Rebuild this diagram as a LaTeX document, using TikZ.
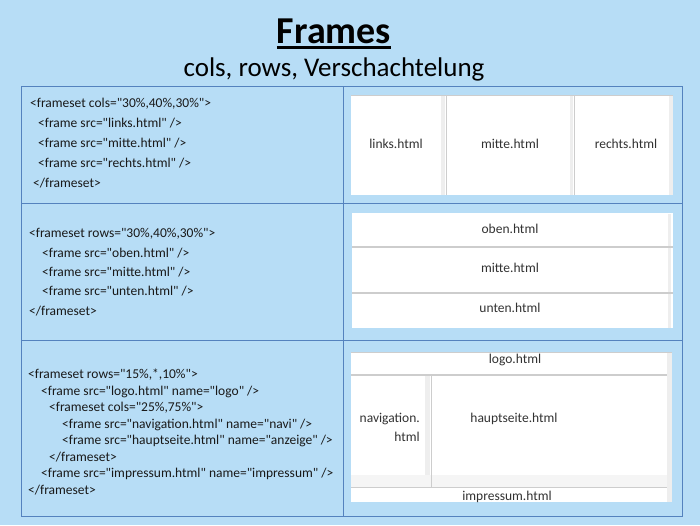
\documentclass[tikz,border=0pt]{standalone}
\usepackage{fontspec}
\setmainfont{Carlito}
\newfontfamily\codefont{Carlito}
\definecolor{bgblue}{RGB}{183,221,246}
\definecolor{tblue}{RGB}{84,130,190}
\definecolor{fgrey}{RGB}{205,205,205}
\definecolor{sgrey}{RGB}{238,238,238}
\definecolor{codecol}{RGB}{25,25,25}
\definecolor{labcol}{RGB}{50,50,50}
\tikzset{
  code/.style={anchor=base west, inner sep=0pt, font=\codefont\fontsize{13.5}{15}\selectfont, text=codecol},
  lab/.style={anchor=base, inner sep=0pt, font=\fontsize{13.5}{15}\selectfont, text=labcol},
  tline/.style={draw=tblue, line width=1pt},
  fbox/.style={fill=white, draw=none},
  fdiv/.style={draw=fgrey, line width=1.2pt},
  strip/.style={fill=sgrey, draw=none},
}
\begin{document}
\begin{tikzpicture}[x=1pt,y=-1pt]
\useasboundingbox (0,0) rectangle (700,525);
\fill[bgblue] (0,0) rectangle (700,525);
% title
\node[anchor=base, inner sep=0pt, font=\bfseries\fontsize{38}{40}\selectfont] (title) at (334,43) {Frames};
\draw[line width=2.6pt] ([yshift=-4.5pt]title.base west) -- ([yshift=-4.5pt]title.base east);
\node[anchor=base, inner sep=0pt, font=\fontsize{27}{30}\selectfont] (sub) at (334,76) {cols, rows, Verschachtelung};
% table
\draw[tline] (21,86) rectangle (682,516);
\draw[tline] (343,86) -- (343,516);
\draw[tline] (21,203) -- (682,203);
\draw[tline] (21,340) -- (682,340);
% row 1 code
\node[code] (a1) at (30,107) {<frameset cols="30\%,40\%,30\%">};
\node[code] (a2) at (38,127) {<frame src="links.html" />};
\node[code] (a3) at (38,147) {<frame src="mitte.html" />};
\node[code] (a4) at (38,167) {<frame src="rechts.html" />};
\node[code] (a5) at (33,187) {</frameset>};
% row 1 frames
\fill[fbox] (351,95) rectangle (673,195);
\draw[fdiv] (351,95.5) -- (673,95.5);
\fill[strip] (441,96) rectangle (445,195);
\fill[strip] (570,96) rectangle (573,195);
\fill[strip] (669,96) rectangle (673,195);
\draw[fdiv] (446.5,95) -- (446.5,195);
\draw[fdiv] (574.5,95) -- (574.5,195);
\node[lab] (l1) at (396,148.5) {links.html};
\node[lab] (l2) at (510,148.5) {mitte.html};
\node[lab] (l3) at (626,148.5) {rechts.html};
% row 2 code
\node[code] (b1) at (29,237) {<frameset rows="30\%,40\%,30\%">};
\node[code] (b2) at (42,257) {<frame src="oben.html" />};
\node[code] (b3) at (42,276) {<frame src="mitte.html" />};
\node[code] (b4) at (42,295) {<frame src="unten.html" />};
\node[code] (b5) at (29,315) {</frameset>};
% row 2 frames
\fill[fbox] (352,213) rectangle (673,328);
\fill[strip] (668,214) rectangle (671,328);
\draw[fdiv] (352,247) -- (673,247);
\draw[fdiv] (352,293) -- (673,293);
\node[lab] (m1) at (510,233.5) {oben.html};
\node[lab] (m2) at (510,272.5) {mitte.html};
\node[lab] (m3) at (510,312.5) {unten.html};
% row 3 code
\node[code] (c1) at (28,378) {<frameset rows="15\%,*,10\%">};
\node[code] (c2) at (41,395) {<frame src="logo.html" name="logo" />};
\node[code] (c3) at (49,411.5) {<frameset cols="25\%,75\%">};
\node[code] (c4) at (62,428) {<frame src="navigation.html" name="navi" />};
\node[code] (c5) at (62,444.5) {<frame src="hauptseite.html" name="anzeige" />};
\node[code] (c6) at (49,461) {</frameset>};
\node[code] (c7) at (41,477.5) {<frame src="impressum.html" name="impressum" />};
\node[code] (c8) at (28,494) {</frameset>};
% row 3 frames
\fill[fbox] (351,352) rectangle (672,502);
\draw[fdiv] (351,352.5) -- (672,352.5);
\fill[strip] (667,353) rectangle (672,502);
\draw[fdiv] (351,375) -- (667,375);
\fill[strip] (425,376) rectangle (430,488);
\fill[sgrey!60!white] (351,475) rectangle (667,488);
\draw[fdiv] (351,487.5) -- (667,487.5);
\draw[fdiv] (431.5,375) -- (431.5,488);
\node[lab] (n1) at (515,363.5) {logo.html};
\node[lab, anchor=base east] (n2) at (420,422.5) {navigation.};
\node[lab, anchor=base east] (n3) at (420,441.5) {html};
\node[lab] (n4) at (514,422.5) {hauptseite.html};
\node[lab] (n5) at (507,500) {impressum.html};
\end{tikzpicture}
\end{document}
